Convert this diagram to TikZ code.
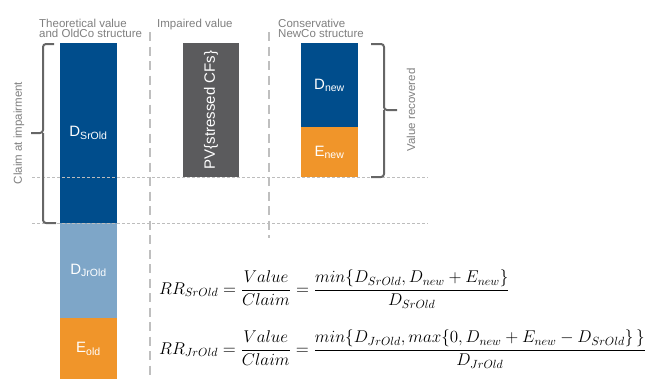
\documentclass[tikz,border=0pt]{standalone}
\usepackage{fontspec}
\usepackage{graphicx}
\newfontfamily\arial{Liberation Sans}
\definecolor{dblue}{HTML}{004D8C}
\definecolor{lblue}{HTML}{7EA6C8}
\definecolor{orng}{HTML}{F0952A}
\definecolor{dgray}{HTML}{5B5B5D}
\definecolor{txtgray}{HTML}{7F7F7F}
\definecolor{bracegray}{HTML}{666666}
\definecolor{sepgray}{HTML}{BFBFBF}
\definecolor{dotgray}{HTML}{BDBDBD}
\newlength\fmw
\newcommand{\fmA}{$\displaystyle RR_{SrOld}=\frac{Value}{Claim}=\frac{min\{D_{SrOld},D_{new}+E_{new}\}}{D_{SrOld}}$}
\newcommand{\fmB}{$\displaystyle RR_{JrOld}=\frac{Value}{Claim}=\frac{min\{D_{JrOld},max\{0,D_{new}+E_{new}-D_{SrOld}\}\,\}}{D_{JrOld}}$}
\begin{document}
\begin{tikzpicture}[x=1pt,y=-1pt,
  bar/.style={draw=none, inner sep=0pt, text=white, font=\arial\fontsize{15}{15}\selectfont},
  hdr/.style={text=txtgray, font=\arial\fontsize{11.5}{10.3}\selectfont, inner sep=0pt, anchor=base west},
  sidelbl/.style={text=txtgray, font=\arial\fontsize{11.5}{12}\selectfont, inner sep=0pt, rotate=90},
  sep/.style={draw=sepgray, line width=2.2pt, dash pattern=on 9pt off 5.5pt},
  hdot/.style={draw=dotgray, line width=0.8pt, dash pattern=on 3pt off 2pt},
  brc/.style={draw=bracegray, line width=2pt, rounded corners=3pt},
  fml/.style={inner sep=0pt, anchor=west}]
\useasboundingbox (0,0) rectangle (651,378);
% separators
\draw[sep] (150,32) -- (150,378);
\draw[sep] (269,32) -- (269,238);
% bars
\node[bar, fill=dblue, minimum width=57pt, minimum height=180pt] (srold) at (88.5,133) {D\textsubscript{SrOld}};
\node[bar, fill=lblue, minimum width=57pt, minimum height=95pt] (jrold) at (88.5,270.5) {D\textsubscript{JrOld}};
\node[bar, fill=orng, minimum width=57pt, minimum height=62pt] (eold) at (88.5,349) {E\textsubscript{old}};
\node[bar, fill=dgray, minimum width=56pt, minimum height=134pt] (pv) at (211,110) {};
\node[bar, text=white, rotate=90] (pvlbl) at (pv.center) {PV\{stressed CFs\}};
\node[bar, fill=dblue, minimum width=57pt, minimum height=84pt] (dnew) at (329.5,85) {D\textsubscript{new}};
\node[bar, fill=orng, minimum width=57pt, minimum height=50pt] (enew) at (329.5,152) {E\textsubscript{new}};
% dotted guides
\draw[hdot] (32,177) -- (428,177);
\draw[hdot] (32,223) -- (428,223);
% headers
\node[hdr] (h1a) at (39,27.3) {Theoretical value};
\node[hdr] (h1b) at (39,37.6) {and OldCo structure};
\node[hdr] (h2) at (157,27.3) {Impaired value};
\node[hdr] (h3a) at (278,27.3) {Conservative};
\node[hdr] (h3b) at (278,37.6) {NewCo structure};
% braces
\coordinate (lbt) at (54,44);
\coordinate (lbb) at (56,223);
\coordinate (lbtip) at (31,133);
\draw[brc] (lbt) -| (43,133) -- (lbtip);
\draw[brc] (43,133) |- (lbb);
\coordinate (rbt) at (371,44);
\coordinate (rbb) at (371,177);
\coordinate (rbtip) at (397,110);
\draw[brc] (rbt) -| (384,110) -- (rbtip);
\draw[brc] (384,110) |- (rbb);
\node[sidelbl] (claim) at (19,133) {Claim at impairment};
\node[sidelbl] (valrec) at (411,110) {Value recovered};
% formulas
\fontsize{14}{17}\selectfont
\settowidth\fmw{\fmB}
\pgfmathsetmacro\fmsc{487/\fmw}
\node[fml] (rrsr) at (159,289) {\scalebox{\fmsc}{\fmA}};
\node[fml] (rrjr) at (159,349) {\scalebox{\fmsc}{\fmB}};
\end{tikzpicture}
\end{document}
